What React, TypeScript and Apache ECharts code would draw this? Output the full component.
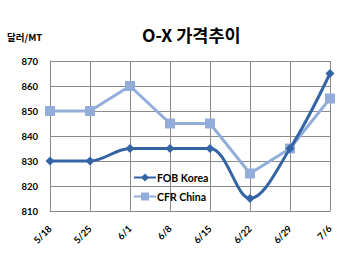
import React, { useEffect, useRef } from "react";
import * as echarts from "echarts";

const categories = ["5/18", "5/25", "6/1", "6/8", "6/15", "6/22", "6/29", "7/6"];
const fobKorea = [830, 830, 835, 835, 835, 815, 835, 865];
const cfrChina = [850, 850, 860, 845, 845, 825, 835, 855];
const yTicks = { min: 810, max: 870, interval: 10 };

export default function App() {
  const ref = useRef<HTMLDivElement>(null);
  useEffect(() => {
    if (!ref.current) return;
    const chart = echarts.init(ref.current, null, { renderer: "svg" });
    const gridColor = "#8a8a8a";
    chart.setOption({
      animation: false,
      backgroundColor: "#ffffff",
      title: {
        text: "O-X 가격추이",
        left: 137,
        top: 21,
        textStyle: { fontFamily: "Noto Sans CJK KR", fontWeight: "bold", fontSize: 17.5, color: "#000" },
      },
      graphic: [
        {
          type: "text",
          left: 7,
          top: 32,
          style: { text: "달러/MT", font: "bold 9.5px 'Noto Sans CJK KR'", fill: "#000" },
        },
      ],
      legend: {
        orient: "vertical",
        left: 128,
        top: 167,
        itemGap: 8,
        itemWidth: 22,
        itemHeight: 10,
        textStyle: { fontFamily: "Lato", fontWeight: "bold", fontSize: 10.5, color: "#000", padding: [0, 0, 0, -4] },
        data: ["FOB Korea", "CFR China"],
      },
      grid: { left: 50, right: 20, top: 61, bottom: 48 },
      xAxis: {
        type: "category",
        data: categories,
        boundaryGap: false,
        axisLine: { show: true, lineStyle: { color: gridColor, width: 1 } },
        axisTick: { show: false },
        splitLine: { show: true, lineStyle: { color: gridColor, width: 1 } },
        axisLabel: {
          rotate: 45,
          margin: 16,
          fontFamily: "Lato",
          fontWeight: "bold",
          fontSize: 9.5,
          color: "#000",
        },
      },
      yAxis: {
        type: "value",
        min: yTicks.min,
        max: yTicks.max,
        interval: yTicks.interval,
        axisLine: { show: true, lineStyle: { color: gridColor, width: 1 } },
        axisTick: { show: false },
        splitLine: { show: true, lineStyle: { color: gridColor, width: 1 } },
        axisLabel: { margin: 12, fontFamily: "Lato", fontWeight: "bold", fontSize: 9.5, color: "#000" },
      },
      series: [
        {
          name: "CFR China",
          type: "line",
          data: cfrChina,
          symbol: "rect",
          symbolSize: 10,
          z: 2,
          lineStyle: { color: "#93ADDA", width: 3 },
          itemStyle: { color: "#93ADDA" },
        },
        {
          name: "FOB Korea",
          type: "line",
          data: fobKorea,
          smooth: 0.35,
          symbol: "diamond",
          symbolSize: 9,
          z: 3,
          lineStyle: { color: "#3564A5", width: 3 },
          itemStyle: { color: "#3564A5" },
        },
      ],
    });
    return () => chart.dispose();
  }, []);
  return (
    <div
      ref={ref}
      style={{ position: "fixed", left: 0, top: 0, width: 350, height: 259 }}
    />
  );
}
